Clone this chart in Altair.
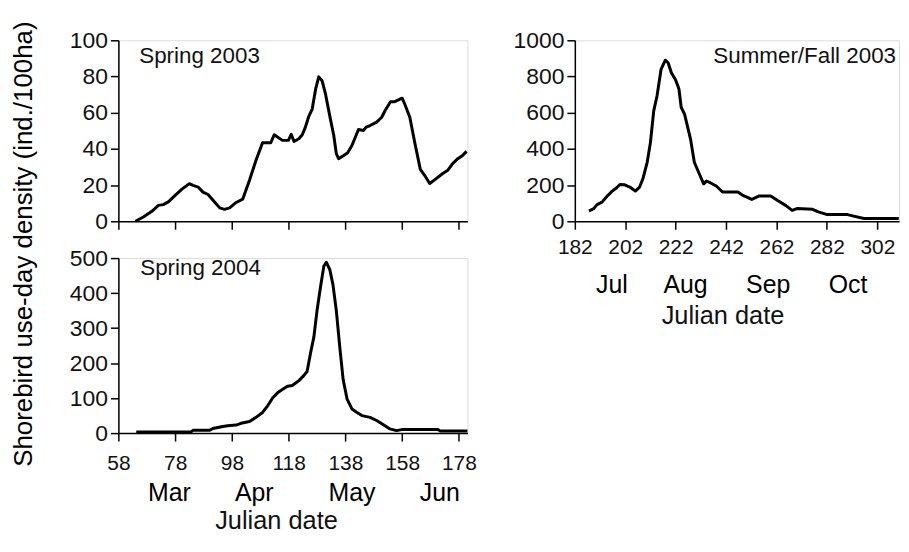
import altair as alt
import pandas as pd

FONT = "Liberation Sans"

# ---- data ----
s03_day = [64.0, 66.8, 69.8, 72.1, 73.8, 75.6, 78.0, 80.3, 83.0, 84.3, 86.1, 87.8, 89.6, 91.9, 93.7, 95.4, 97.2, 99.5, 101.8, 104.2, 106.5, 108.8, 111.7, 112.9, 115.8, 117.9, 118.9, 119.9, 121.6, 122.8, 123.9, 125.1, 126.3, 127.5, 128.6, 129.8, 131.0, 132.7, 133.9, 134.8, 135.6, 137.4, 138.8, 140.3, 142.6, 144.4, 145.3, 146.7, 149.0, 150.8, 152.0, 153.9, 155.4, 158.0, 158.9, 160.7, 162.4, 164.4, 165.9, 167.7, 170.0, 172.3, 174.1, 175.8, 177.6, 179.3, 180.7]
s03_val = [0, 2.4, 5.5, 8.8, 9.2, 10.7, 14.3, 17.6, 20.8, 19.8, 18.9, 16.1, 14.8, 10.7, 7.4, 6.6, 7.4, 10.4, 12.2, 22.7, 33.7, 43.4, 43.4, 47.8, 44.7, 44.7, 48.0, 44.1, 45.6, 47.8, 52.0, 58.0, 62.0, 73.0, 79.8, 77.6, 70.2, 56.6, 47.4, 37.4, 34.6, 36.4, 37.9, 41.9, 50.7, 50.2, 52.0, 52.9, 54.8, 57.5, 61.2, 66.1, 66.1, 68.0, 64.8, 57.5, 43.8, 28.7, 25.4, 20.9, 23.6, 26.4, 28.2, 31.9, 34.6, 36.4, 38.6]

s04_day = [64.3, 83.7, 84.3, 90.2, 91.3, 94.8, 96.5, 99.5, 101.2, 104.2, 106.5, 108.8, 110.6, 112.4, 114.1, 115.9, 117.6, 119.3, 121.6, 123.4, 124.5, 125.7, 126.9, 128.0, 129.2, 130.4, 131.3, 132.5, 133.6, 134.8, 136.0, 137.2, 138.6, 140.3, 142.1, 143.8, 146.7, 149.0, 151.4, 153.7, 156.0, 157.8, 170.6, 171.4, 181.0]
s04_val = [3, 4, 8, 8, 13, 19, 21, 23, 28, 33, 45, 59, 78, 101, 115, 125, 134, 136, 150, 165, 176, 228, 275, 350, 416, 477, 488, 467, 425, 350, 247, 153, 97, 69, 59, 50, 45, 36, 24, 12, 7, 10, 10, 6, 6]

sf03_day = [187.6, 189.5, 190.8, 192.8, 194.7, 196.7, 198.6, 199.9, 201.6, 203.8, 206.0, 207.7, 209.0, 210.7, 212.0, 213.3, 214.6, 216.2, 217.9, 219.0, 220.3, 222.0, 223.3, 224.2, 225.5, 227.9, 229.4, 231.1, 233.1, 234.2, 235.7, 238.1, 240.6, 244.8, 246.7, 248.7, 252.2, 255.2, 259.7, 262.3, 265.6, 268.2, 270.1, 276.3, 278.6, 281.8, 290.2, 292.2, 296.7, 310.5]
sf03_val = [57, 70, 92, 106, 137, 165, 185, 203, 202, 189, 167, 189, 235, 326, 436, 610, 692, 839, 890, 876, 821, 780, 731, 629, 593, 454, 326, 271, 207, 222, 213, 195, 162, 162, 162, 143, 121, 140, 140, 116, 88, 60, 70, 66, 52, 38, 37, 30, 15, 15]

spring_ticks = [58, 78, 98, 118, 138, 158, 178]
summer_ticks = [182, 202, 222, 242, 262, 282, 302]
y03_ticks = [0, 20, 40, 60, 80, 100]
y04_ticks = [0, 100, 200, 300, 400, 500]
ysf_ticks = [0, 200, 400, 600, 800, 1000]

spring_months = ["Mar", "Apr", "May", "Jun"]
spring_month_pos = [76, 105.9, 140.3, 171.3]
summer_months = ["Jul", "Aug", "Sep", "Oct"]
summer_month_pos = [196.7, 225.9, 258.7, 290.4]

Y_TITLE = "Shorebird use-day density (ind./100ha)"
X_TITLE = "Julian date"

SPRING_DOM = [58, 181]
SUMMER_DOM = [182, 310.6]
LW = 351
RW = 326
TH = 182   # top panels height
BH = 176   # bottom-left panel height


def xaxis(values, labels, pad):
    return alt.Axis(values=values, labels=labels, title=None, grid=False,
                    tickSize=8, tickWidth=1.5, domainWidth=1.5,
                    domainColor="black", tickColor="black",
                    labelFont=FONT, labelFontSize=21, labelColor="#111",
                    labelPadding=pad, labelFlush=False, labelOverlap=False)


def yaxis(values):
    return alt.Axis(values=values, title=None, grid=False, format="d",
                    tickSize=8, tickWidth=1.5, domainWidth=1.5,
                    domainColor="black", tickColor="black",
                    labelFont=FONT, labelFontSize=23, labelColor="#111",
                    labelPadding=3, labelFlush=False, labelOverlap=False)


def series(days, vals, xdom, xticks, ydom, yticks, w, h, xlabels, pad):
    df = pd.DataFrame({"day": days, "val": vals})
    return alt.Chart(df).mark_line(color="black", strokeWidth=3, strokeJoin="round").encode(
        x=alt.X("day:Q", scale=alt.Scale(domain=xdom, nice=False, zero=False),
                axis=xaxis(xticks, xlabels, pad)),
        y=alt.Y("val:Q", scale=alt.Scale(domain=ydom, nice=False),
                axis=yaxis(yticks)),
    ).properties(width=w, height=h)


def label(text, x, y, align="left", size=22.5):
    return alt.Chart(pd.DataFrame({"t": [text]})).mark_text(
        align=align, baseline="alphabetic", font=FONT, fontSize=size, color="#111"
    ).encode(text="t:N", x=alt.value(x), y=alt.value(y))


def months(names, pos, y):
    return alt.Chart(pd.DataFrame({"m": names, "day": pos})).mark_text(
        align="center", baseline="alphabetic", font=FONT, fontSize=25, color="black"
    ).encode(text="m:N", x="day:Q", y=alt.value(y))


ytitle = alt.Chart(pd.DataFrame({"t": [Y_TITLE]})).mark_text(
    angle=270, align="center", baseline="middle", font=FONT, fontSize=26, color="black"
).encode(text="t:N", x=alt.value(-95), y=alt.value(205))

tl = alt.layer(
    series(s03_day, s03_val, SPRING_DOM, spring_ticks, [0, 100], y03_ticks, LW, TH, False, 12),
    label("Spring 2003", 21, 22.6),
    ytitle,
)

bl = alt.layer(
    series(s04_day, s04_val, SPRING_DOM, spring_ticks, [0, 500], y04_ticks, LW, BH, True, 12),
    label("Spring 2004", 22, 17.3),
    months(spring_months, spring_month_pos, BH + 68),
    label(X_TITLE, 159, BH + 96, align="center", size=25.5),
)

r = alt.layer(
    series(sf03_day, sf03_val, SUMMER_DOM, summer_ticks, [0, 1000], ysf_ticks, RW, TH, True, 7.5),
    label("Summer/Fall 2003", RW - 3, 23, align="right"),
    months(summer_months, summer_month_pos, TH + 72),
    label(X_TITLE, 149, TH + 103, align="center", size=25.5),
)

chart = alt.ConcatChart(
    concat=[tl, r, bl], columns=2, bounds="flush",
    spacing={"row": 37, "column": 108},
).properties(
    padding={"left": 2, "top": 11, "right": 0, "bottom": 0}
).configure_view(stroke=None).configure(background="white")

chart.save("out.html", embed_options={"renderer": "svg", "actions": False})
